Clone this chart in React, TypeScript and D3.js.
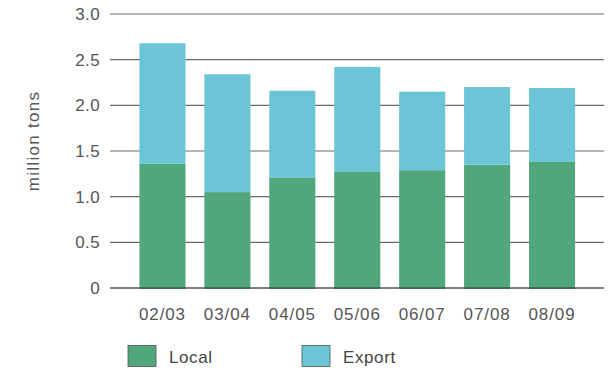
import React from "react";
import * as d3 from "d3";

const seasons = ["02/03", "03/04", "04/05", "05/06", "06/07", "07/08", "08/09"];
const localValues = [1.36, 1.05, 1.21, 1.27, 1.29, 1.35, 1.38];
const exportValues = [1.32, 1.29, 0.95, 1.15, 0.86, 0.85, 0.81];
const yTicks = [0, 0.5, 1.0, 1.5, 2.0, 2.5, 3.0];
const seriesNames = ["Local", "Export"];

const W = 610;
const H = 370;
const GREEN = "#52a67b";
const BLUE = "#6cc5d6";
const FONT = "'Liberation Sans', Arial, sans-serif";
const FS = 17;
const TEXT = "#555";

export default function App() {
  const x = d3
    .scaleBand<string>()
    .domain(seasons)
    .range([130, 584.5])
    .paddingInner(0.29)
    .paddingOuter(0.145);
  const y = d3.scaleLinear().domain([0, 3]).range([288, 14]);

  const rows = seasons.map((s, i) => ({ season: s, Local: localValues[i], Export: exportValues[i] }));
  const stacked = d3.stack<any>().keys(seriesNames)(rows);
  const colors: Record<string, string> = { Local: GREEN, Export: BLUE };

  return (
    <svg
      width={W}
      height={H}
      style={{ position: "absolute", left: 0, top: 0, background: "#fff" }}
      fontFamily={FONT}
    >
      {/* horizontal gridlines */}
      {yTicks.map((t) => (
        <line
          key={t}
          x1={110}
          x2={604}
          y1={y(t)}
          y2={y(t)}
          stroke={t === 0 ? "#555" : "#6a6a6a"}
          strokeWidth={t === 0 ? 1.3 : 1.1}
        />
      ))}
      {/* y tick labels */}
      {yTicks.map((t) => (
        <text
          key={"l" + t}
          x={100}
          y={y(t)}
          dy="0.35em"
          textAnchor="end"
          fontSize={FS}
          fill={TEXT}
          letterSpacing={0.4}
        >
          {t === 0 ? "0" : d3.format(".1f")(t)}
        </text>
      ))}
      {/* stacked bars */}
      {stacked.map((layer) =>
        layer.map((d, i) => (
          <rect
            key={layer.key + i}
            x={x(seasons[i])}
            width={x.bandwidth()}
            y={y(d[1])}
            height={y(d[0]) - y(d[1])}
            fill={colors[layer.key]}
          />
        ))
      )}
      {/* dark base edge under each bar */}
      {seasons.map((s) => (
        <line
          key={"b" + s}
          x1={x(s)}
          x2={(x(s) as number) + x.bandwidth()}
          y1={y(0)}
          y2={y(0)}
          stroke="#2f5e45"
          strokeWidth={1.5}
        />
      ))}
      {/* x labels */}
      {seasons.map((s) => (
        <text
          key={"x" + s}
          x={(x(s) as number) + x.bandwidth() / 2}
          y={314}
          dy="0.35em"
          textAnchor="middle"
          fontSize={FS}
          fill={TEXT}
          letterSpacing={0.9}
        >
          {s}
        </text>
      ))}
      {/* y axis title */}
      <text
        transform={`translate(33,141) rotate(-90)`}
        textAnchor="middle"
        dy="0.35em"
        fontSize={FS}
        fill={TEXT}
        letterSpacing={1.3}
      >
        million tons
      </text>
      {/* legend */}
      {seriesNames.map((name, i) => {
        const lx = i === 0 ? 128 : 302;
        return (
          <g key={name}>
            <rect x={lx} y={345.5} width={28} height={21} fill={colors[name]} stroke="#555" strokeWidth={0.8} />
            <text x={lx + 41} y={357} dy="0.35em" fontSize={FS} fill="#444" letterSpacing={0.6}>
              {name}
            </text>
          </g>
        );
      })}
    </svg>
  );
}
